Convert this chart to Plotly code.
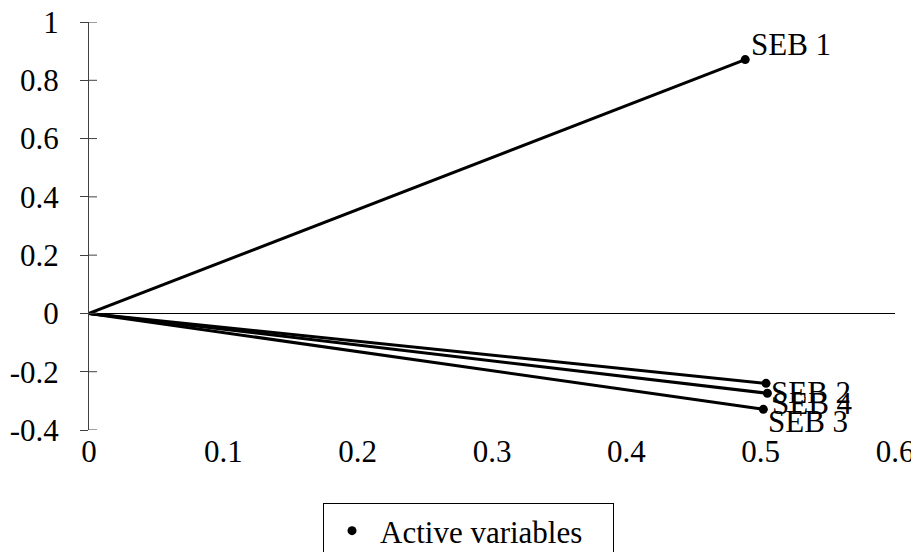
import plotly.graph_objects as go

labels = ["SEB 1", "SEB 2", "SEB 3", "SEB 4"]
x_vals = [0.4885, 0.504, 0.502, 0.505]
y_vals = [0.871, -0.240, -0.329, -0.274]
label_dy = [15, -9, -12, -10]
label_dx = [4, 3, 3, 3]
y_ticks = [-0.4, -0.2, 0, 0.2, 0.4, 0.6, 0.8, 1]
y_tick_text = ["-0.4", "-0.2", "0", "0.2", "0.4", "0.6", "0.8", "1"]
x_ticks = [0, 0.1, 0.2, 0.3, 0.4, 0.5, 0.6]
x_tick_text = ["0", "0.1", "0.2", "0.3", "0.4", "0.5", "0.6"]

FONT = "Liberation Serif, Times New Roman, serif"
FS = 31

fig = go.Figure()
for lab, xv, yv in zip(labels, x_vals, y_vals):
    fig.add_trace(go.Scatter(x=[0, xv], y=[0, yv], mode="lines",
                             line=dict(color="black", width=3),
                             showlegend=False, hoverinfo="skip", cliponaxis=False))
fig.add_trace(go.Scatter(x=x_vals, y=y_vals, mode="markers",
                         marker=dict(color="black", size=9),
                         name="Active variables", showlegend=True, cliponaxis=False))

annotations = []
for lab, xv, yv, dx, dy in zip(labels, x_vals, y_vals, label_dx, label_dy):
    annotations.append(dict(x=xv, y=yv, xref="x", yref="y", text=lab,
                            showarrow=False, xanchor="left", yanchor="middle",
                            xshift=dx, yshift=dy,
                            font=dict(family=FONT, size=FS, color="black")))

# inner half of the crossing y-axis tick marks
shapes = []
for t in y_ticks:
    shapes.append(dict(type="line", xref="x domain", yref="y",
                       x0=0, x1=8 / 806, y0=t, y1=t,
                       line=dict(color="#404040", width=1), layer="above"))

# page body has an 8px default margin, so the figure is sized to fill the rest
fig.update_layout(
    width=911, height=544,
    margin=dict(l=81, r=24, t=14, b=122),
    paper_bgcolor="white", plot_bgcolor="white",
    font=dict(family=FONT, size=FS, color="black"),
    shapes=shapes,
    annotations=annotations,
    xaxis=dict(range=[0, 0.6], tickvals=x_ticks, ticktext=x_tick_text,
               showgrid=False, zeroline=False, showline=False, ticks="",
               automargin=False, ticklabeloverflow="allow",
               tickfont=dict(family=FONT, size=FS, color="black")),
    yaxis=dict(range=[-0.4, 1], tickvals=y_ticks, ticktext=y_tick_text,
               showgrid=False, zeroline=True, zerolinecolor="black", zerolinewidth=1.3,
               showline=True, linecolor="#404040", linewidth=1,
               ticks="outside", ticklen=8, tickcolor="#404040", tickwidth=1,
               ticklabelstandoff=15, automargin=False, ticklabeloverflow="allow",
               tickfont=dict(family=FONT, size=FS, color="black")),
    legend=dict(x=0.3458, xref="container", xanchor="left",
                y=0.0901, yref="container", yanchor="top",
                orientation="h", bordercolor="black", borderwidth=1,
                bgcolor="white", entrywidth=228, itemwidth=46,
                font=dict(family=FONT, size=FS, color="black")),
)

fig.write_html("out.html")
